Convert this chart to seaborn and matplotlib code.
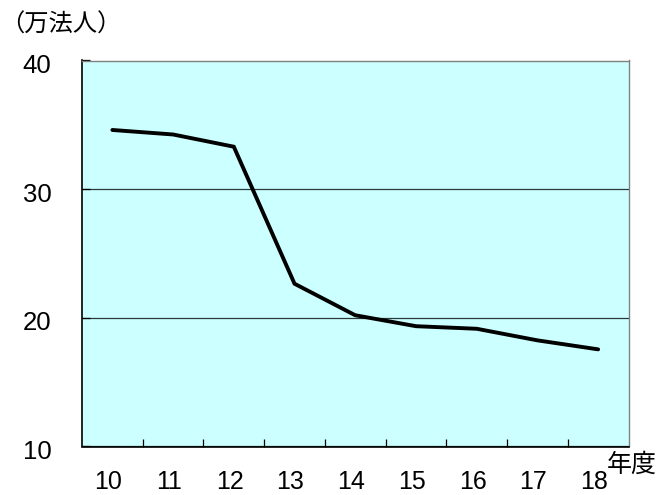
import matplotlib
matplotlib.use("Agg")
import matplotlib.pyplot as plt
import matplotlib.transforms as mtransforms
import seaborn as sns
import pandas as pd

# 年度別の法人数（万法人）
years = ["10", "11", "12", "13", "14", "15", "16", "17", "18"]
values = [34.6, 34.25, 33.3, 22.65, 20.2, 19.35, 19.15, 18.25, 17.55]
y_ticks = [10, 20, 30, 40]

sns.set_theme(style="white")
plt.rcParams["font.family"] = ["Liberation Sans", "Noto Sans CJK JP"]

W, H = 662, 495
fig = plt.figure(figsize=(W / 100, H / 100), dpi=100)
fig.patch.set_facecolor("white")
ax = fig.add_axes([82 / W, (H - 446.5) / H, (628.5 - 82) / W, (446.5 - 60.5) / H])
ax.set_facecolor("#CCFFFF")

df = pd.DataFrame({"pos": range(len(years)), "value": values})
sns.lineplot(data=df, x="pos", y="value", ax=ax, color="black", lw=2.8,
             solid_joinstyle="miter")

ax.set_xlim(-0.5, len(years) - 0.5)
ax.set_ylim(y_ticks[0], y_ticks[-1])
ax.set_xlabel("")
ax.set_ylabel("")

ax.set_yticks(y_ticks, labels=[str(v) for v in y_ticks])
ax.yaxis.grid(True, color="#2a3a3a", lw=0.9)
ax.xaxis.grid(False)
ax.tick_params(axis="y", direction="in", length=6, width=0.9, color="black",
               pad=22, labelsize=18.5, labelcolor="black", left=True)

ax.set_xticks(range(len(years)), labels=years)
ax.set_xticks([i + 0.5 for i in range(len(years) - 1)], minor=True)
ax.tick_params(axis="x", which="major", length=0, pad=17, labelsize=18,
               labelcolor="black")
ax.tick_params(axis="x", which="minor", direction="in", length=6, width=0.9,
               color="black", bottom=True)

shift_x = mtransforms.ScaledTranslation(-4 / 100, 0, fig.dpi_scale_trans)
for lab in ax.get_xticklabels():
    lab.set_transform(lab.get_transform() + shift_x)
shift_y = mtransforms.ScaledTranslation(0, -3 / 100, fig.dpi_scale_trans)
for lab in ax.get_yticklabels():
    lab.set_transform(lab.get_transform() + shift_y)

for side in ("top", "right"):
    ax.spines[side].set_color("#808080")
    ax.spines[side].set_linewidth(1.0)
for side in ("left", "bottom"):
    ax.spines[side].set_color("black")
    ax.spines[side].set_linewidth(1.2)

fig.text(61 / W, 1 - 25 / H, "（万法人）", family=["Noto Sans CJK JP"],
         fontsize=17.5, va="center", ha="center", color="black")
fig.text(607 / W, 1 - 465 / H, "年度", family=["Noto Sans CJK JP"],
         fontsize=18, va="center", ha="left", color="black")

fig.savefig("out.png", dpi=100)
